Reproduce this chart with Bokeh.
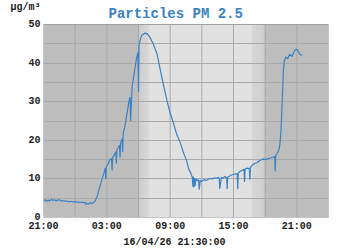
from bokeh.plotting import figure
from bokeh.models import Label, Title, SingleIntervalTicker, FixedTicker, Range1d
from bokeh.embed import file_html
from bokeh.resources import INLINE

# ---- data (hours after 21:00 of the previous day, PM2.5 in µg/m³) ----
hours = [0.0, 0.15, 0.3, 0.45, 0.6, 0.75, 0.9, 1.05, 1.2, 1.35, 1.5, 1.65, 1.8, 1.95,
         2.1, 2.25, 2.4, 2.6, 2.8, 3.0, 3.2, 3.4, 3.6, 3.8, 3.95, 4.05, 4.15, 4.3,
         4.45, 4.6, 4.75, 4.9, 5.1, 5.3, 5.5, 5.7, 5.85, 5.9, 5.95, 6.1, 6.3, 6.45,
         6.5, 6.55, 6.7, 6.85, 6.9, 6.95, 7.1, 7.2, 7.25, 7.3, 7.45, 7.5, 7.55, 7.7,
         7.9, 8.1, 8.2, 8.25, 8.4, 8.6, 8.8, 8.95, 9.0, 9.05, 9.15, 9.3, 9.45, 9.6,
         9.7, 9.8, 9.95, 10.1, 10.25, 10.4, 10.55, 10.75, 10.95, 11.2, 11.45, 11.7,
         12.0, 12.3, 12.6, 12.95, 13.3, 13.55, 13.75, 13.95, 14.1, 14.15, 14.2, 14.25,
         14.3, 14.35, 14.45, 14.6, 14.7, 14.75, 14.85, 15.0, 15.2, 15.4, 15.6, 15.8,
         16.0, 16.2, 16.4, 16.55, 16.65, 16.7, 16.85, 17.0, 17.2, 17.35, 17.4, 17.45,
         17.6, 17.8, 18.0, 18.2, 18.35, 18.4, 18.45, 18.6, 18.8, 19.0, 19.05, 19.1,
         19.3, 19.5, 19.55, 19.6, 19.8, 20.0, 20.2, 20.4, 20.6, 20.85, 21.1, 21.3,
         21.5, 21.7, 21.9, 21.95, 22.0, 22.1, 22.28, 22.4, 22.5, 22.63, 22.72, 22.82,
         22.98, 23.13, 23.32, 23.54, 23.76, 23.95, 24.08, 24.27, 24.49]
pm25 = [4.3, 4.6, 4.2, 4.5, 4.3, 4.7, 4.4, 4.6, 4.3, 4.5, 4.6, 4.3, 4.4, 4.2,
        4.3, 4.2, 4.1, 4.2, 4.0, 4.1, 4.0, 3.9, 4.0, 3.8, 3.9, 3.3, 3.7, 3.5,
        3.9, 3.6, 3.9, 4.3, 5.6, 7.6, 9.5, 11.3, 12.8, 9.9, 13.2, 13.8, 15.0, 15.3,
        12.2, 15.6, 16.2, 17.0, 14.0, 17.5, 18.2, 18.8, 15.5, 19.2, 20.5, 17.0, 21.8,
        23.4, 26.8, 30.2, 31.2, 25.0, 34.0, 37.5, 41.0, 42.8, 32.5, 44.5, 45.9, 47.2,
        47.4, 47.8, 47.6, 47.7, 47.2, 46.6, 45.8, 45.0, 43.8, 42.4, 39.8, 36.4, 33.3,
        30.3, 27.0, 24.6, 21.7, 19.4, 16.5, 14.8, 12.6, 11.5, 10.4, 8.0, 10.6, 7.8,
        10.2, 8.2, 10.0, 9.5, 9.8, 7.2, 9.7, 9.3, 9.8, 9.6, 9.9, 10.1, 10.0, 10.3,
        10.1, 10.4, 10.2, 7.4, 10.4, 10.2, 10.6, 10.3, 7.4, 10.5, 10.7, 11.0, 11.2,
        11.3, 11.4, 7.4, 11.6, 11.9, 12.2, 12.5, 9.2, 12.6, 12.8, 12.7, 9.8, 13.0,
        13.6, 14.0, 14.2, 14.6, 14.9, 15.2, 15.0, 15.3, 15.4, 15.6, 15.8, 11.9,
        16.0, 16.5, 17.3, 19.0, 22.5, 31.0, 38.0, 40.7, 41.6, 41.1, 42.3, 41.7,
        43.1, 43.7, 43.3, 42.3, 42.0]

tick_hours = [0, 6, 12, 18, 24]
tick_labels = ["21:00", "03:00", "09:00", "15:00", "21:00"]
value_ticks = [0, 10, 20, 30, 40, 50]
grid_hours = [3, 6, 9, 12, 15, 18, 21, 24]

x_min, x_max = 0, 27
y_min, y_max = 0, 50

daylight_start = 9.0    # 06:00
daylight_full = 10.0    # 07:00
dusk_start = 19.8       # ~16:50
daylight_end = 21.0     # 18:00

title_text = "Particles PM 2.5"
unit_text = "µg/m³"
stamp_text = "16/04/26 21:30:00"

night_color = "#bdbdbd"
day_color = "#e1e1e1"
grid_color = "#a9a9a9"
line_color = "#3b82c4"

FONT = "Liberation Mono"

# frame reaches the top of the canvas so the unit can sit above the grey area
unit_pos = 54.5
top_pad = 6.22
p = figure(width=350, height=250, output_backend="svg", toolbar_location=None,
           x_range=Range1d(x_min, x_max), y_range=Range1d(y_min, y_max + top_pad),
           min_border_left=43, min_border_right=22, min_border_top=0,
           min_border_bottom=33)
p.background_fill_color = "white"
p.border_fill_color = "white"
p.outline_line_color = None

# night background + day / twilight shading
p.quad(left=x_min, right=x_max, bottom=y_min, top=y_max, fill_color=night_color,
       line_color=None, level="image")

def hexmix(c1, c2, f):
    a = [int(c1[i:i + 2], 16) for i in (1, 3, 5)]
    b = [int(c2[i:i + 2], 16) for i in (1, 3, 5)]
    return "#%02x%02x%02x" % tuple(int(round(a[k] + (b[k] - a[k]) * f)) for k in range(3))

n = 12
lefts, rights, cols = [], [], []
dawn_c0 = "#cdcdcd"
for i in range(n):
    l = daylight_start + (daylight_full - daylight_start) * i / n
    r = daylight_start + (daylight_full - daylight_start) * (i + 1) / n
    lefts.append(l); rights.append(r); cols.append(hexmix(dawn_c0, day_color, (i + 0.5) / n))
lefts.append(daylight_full); rights.append(dusk_start); cols.append(day_color)
for i in range(n):
    l = dusk_start + (daylight_end - dusk_start) * i / n
    r = dusk_start + (daylight_end - dusk_start) * (i + 1) / n
    lefts.append(l); rights.append(r); cols.append(hexmix(day_color, "#cbcbcb", (i + 0.5) / n))
p.quad(left=lefts, right=rights, bottom=y_min, top=y_max, fill_color=cols,
       line_color=None, level="image")

# grids
p.xgrid.visible = False
p.ygrid.ticker = SingleIntervalTicker(interval=5)
p.ygrid.bounds = (y_min, y_max)
p.ygrid.grid_line_color = grid_color
p.segment(x0=grid_hours, y0=y_min, x1=grid_hours, y1=y_max,
          line_color=grid_color, line_width=1)
# plot-area frame
p.quad(left=x_min, right=x_max, bottom=y_min, top=y_max, fill_color=None,
       line_color="#a0a0a0", line_width=1)

p.line(hours, pm25, line_color=line_color, line_width=1.2)

# axes
p.xaxis.ticker = FixedTicker(ticks=tick_hours)
p.xaxis.major_label_overrides = {h: lab for h, lab in zip(tick_hours, tick_labels)}
p.yaxis.ticker = FixedTicker(ticks=value_ticks + [unit_pos])
p.yaxis.major_label_overrides = {unit_pos: unit_text}
for ax in (p.xaxis, p.yaxis):
    ax.axis_line_color = None
    ax.major_tick_line_color = None
    ax.minor_tick_line_color = None
    ax.major_tick_out = 0
    ax.major_tick_in = 0
    ax.major_label_text_font = FONT
    ax.major_label_text_font_style = "bold"
    ax.major_label_text_font_size = "10px"
    ax.major_label_text_color = "#222222"
    ax.major_label_standoff = 3

# texts
p.add_layout(Label(x=65, y=204, x_units="screen", y_units="screen", text=title_text,
                   text_font=FONT, text_font_style="bold", text_font_size="14px",
                   text_color=line_color, text_align="left",
                   text_baseline="alphabetic"))
p.add_layout(Title(text=stamp_text, align="left", offset=80, standoff=0,
                   text_font=FONT, text_font_style="bold", text_font_size="10px",
                   text_color="#222222"), "below")

open("out.html", "w").write(file_html(p, INLINE))
